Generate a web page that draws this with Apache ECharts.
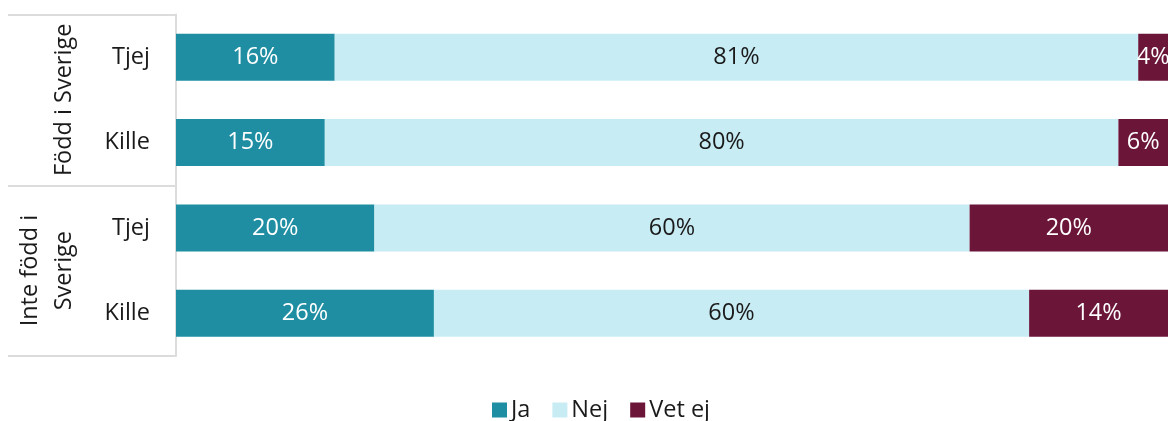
<!DOCTYPE html>
<html>
<head>
<meta charset="utf-8">
<script src="https://cdn.jsdelivr.net/npm/echarts@6/dist/echarts.min.js"></script>
<style>
  html, body { margin: 0; padding: 0; background: #fff; }
  #chart { width: 1168px; height: 421px; }
</style>
</head>
<body>
<div id="chart"></div>
<script>
// Rows, top to bottom
const groups = ['Född i Sverige', 'Inte född i\nSverige'];
const rowGroup = [0, 0, 1, 1];
const rowLabels = ['Tjej', 'Kille', 'Tjej', 'Kille'];

// Shares in percent per answer
const ja = [16, 15, 20, 26];
const nej = [81, 80, 60, 60];
const vetEj = [4, 6, 20, 14];

const seriesNames = ['Ja', 'Nej', 'Vet ej'];
const colors = ['#1f8ea3', '#c8ecf4', '#6b1538'];
const labelColors = ['#ffffff', '#1a1a1a', '#ffffff'];

const FONT = 'Open Sans';
const FS = 23.5;
const rowKeys = rowLabels.map((l, i) => rowGroup[i] + '-' + i + '|' + l);

const chart = echarts.init(document.getElementById('chart'), null, { renderer: 'canvas' });

const values = [ja, nej, vetEj];
const series = seriesNames.map((name, s) => ({
  name,
  type: 'bar',
  stack: 'total',
  barWidth: 47,
  yAxisIndex: 0,
  itemStyle: { color: colors[s] },
  label: {
    show: true,
    position: 'inside',
    formatter: p => p.value + '%',
    color: labelColors[s],
    fontFamily: FONT,
    fontSize: FS
  },
  emphasis: { disabled: true },
  data: values[s]
}));

chart.setOption({
  animation: false,
  textStyle: { fontFamily: FONT },
  grid: { left: 176, right: 0, top: 14.5, bottom: 65, containLabel: false },
  xAxis: {
    type: 'value',
    min: 0,
    max: 100,
    show: false
  },
  yAxis: [
    {
      type: 'category',
      inverse: true,
      data: rowKeys,
      axisLine: { show: false },
      axisTick: { show: false },
      axisLabel: {
        interval: 0,
        margin: 26,
        color: '#1a1a1a',
        fontFamily: FONT,
        fontSize: FS,
        formatter: v => v.split('|')[1]
      }
    },
    {
      type: 'category',
      inverse: true,
      position: 'left',
      data: groups,
      axisLine: { show: true, lineStyle: { color: '#dcdcdc', width: 2 } },
      axisTick: { show: true, interval: 0, length: 168, lineStyle: { color: '#dcdcdc', width: 2 } },
      axisLabel: {
        interval: 0,
        hideOverlap: false,
        rotate: 90,
        margin: 95,
        color: '#1a1a1a',
        fontFamily: FONT,
        fontSize: FS,
        lineHeight: 34
      }
    }
  ],
  legend: {
    data: seriesNames,
    top: 393,
    left: 487,
    itemWidth: 15,
    itemHeight: 15,
    itemGap: 22,
    icon: 'rect',
    textStyle: { fontFamily: FONT, fontSize: FS, color: '#1a1a1a', padding: [0, 0, 0, -1] }
  },
  series
});
</script>
</body>
</html>
